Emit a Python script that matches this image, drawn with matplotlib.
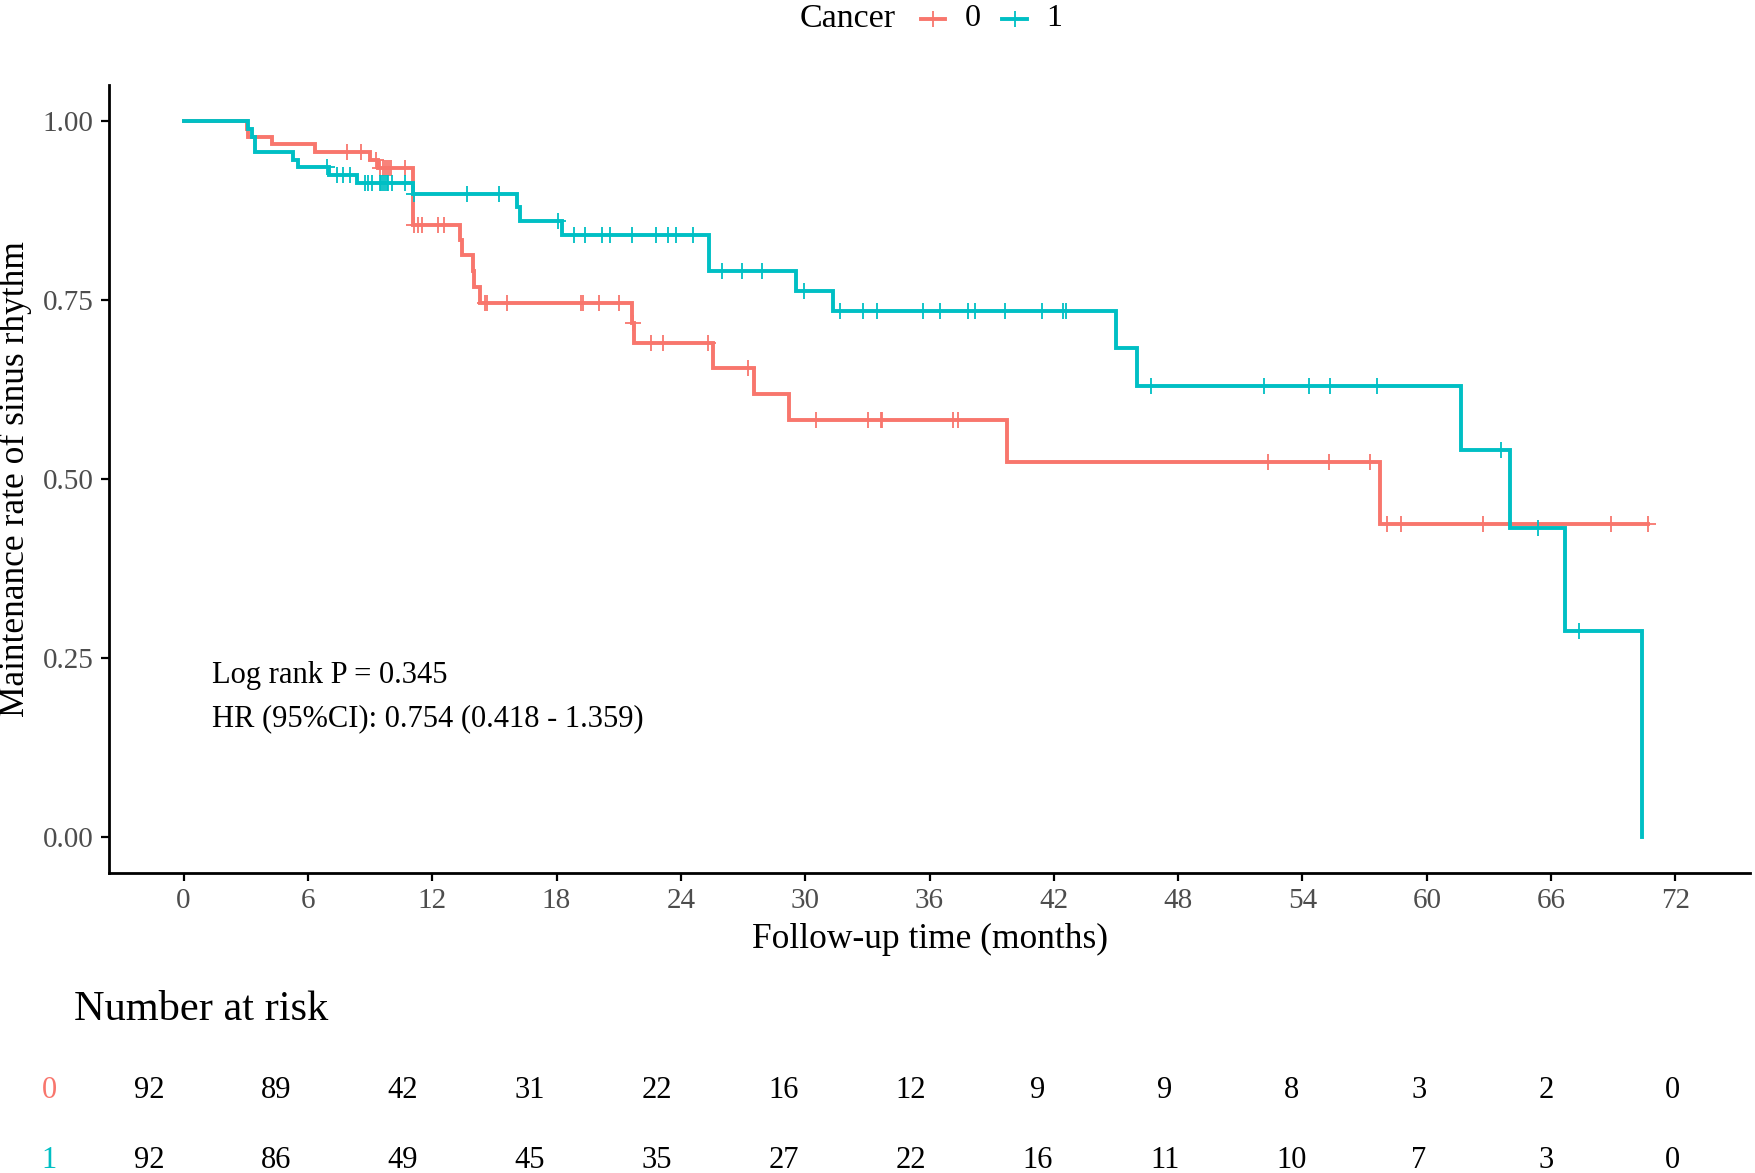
import numpy as np
import matplotlib
matplotlib.use("Agg")
import matplotlib.pyplot as plt
from matplotlib.lines import Line2D
from matplotlib.transforms import blended_transform_factory

plt.rcParams['font.family'] = ['Liberation Serif', 'DejaVu Serif']

# ---------------- data ----------------
groups = ["0", "1"]
colors = ["#F8766D", "#00BFC4"]

# group 0 (red) step curve
t0 = [0, 3.04, 3.12, 4.25, 6.34, 9.0, 9.4, 11.08, 13.34, 13.45, 13.95, 14.0, 14.3,
      21.62, 21.73, 25.56, 27.52, 29.21, 39.72, 57.75]
s0 = [1.0, 0.989, 0.978, 0.967, 0.957, 0.946, 0.934, 0.855, 0.834, 0.813, 0.790, 0.768, 0.746,
      0.718, 0.690, 0.655, 0.619, 0.582, 0.524, 0.437]
end0 = 70.7
cens0 = [7.9, 8.54, 9.3, 9.48, 9.6, 9.7, 9.8, 9.9, 10.0, 10.68, 11.1, 11.3, 11.5, 12.3, 12.55,
         14.54, 14.65, 15.59, 19.16, 19.29, 20.06, 21.01, 21.68, 22.55, 23.15, 25.29, 27.25,
         30.50, 33.04, 33.65, 33.73, 37.14, 37.38, 52.34, 55.30, 57.27, 58.1, 58.78, 62.69,
         68.89, 70.69]

# group 1 (cyan) step curve
t1 = [0, 3.12, 3.28, 3.44, 5.29, 5.53, 7.0, 8.35, 11.05, 16.07, 16.26, 18.24, 25.35,
      29.54, 31.35, 44.98, 46.0, 61.65, 64.0, 66.65, 70.4]
s1 = [1.0, 0.989, 0.978, 0.957, 0.946, 0.935, 0.924, 0.913, 0.898, 0.879, 0.860, 0.840, 0.790,
      0.763, 0.735, 0.683, 0.630, 0.540, 0.432, 0.288, 0.0]
end1 = 70.4
cens1 = [6.9, 7.38, 7.70, 8.03, 8.75, 8.9, 9.07, 9.47, 9.55, 9.63, 9.72, 9.80, 9.87, 10.04,
         10.68, 11.1, 13.66, 15.22, 18.08, 18.84, 19.37, 20.17, 20.57, 21.65, 22.79, 23.39,
         23.76, 24.59, 25.97, 26.93, 27.90, 29.94, 31.67, 32.80, 33.45, 35.67, 36.50, 37.87,
         38.22, 39.65, 41.45, 42.43, 42.60, 46.69, 52.12, 54.33, 55.35, 57.62, 63.58, 65.38,
         67.34]

risk_times = [0, 6, 12, 18, 24, 30, 36, 42, 48, 54, 60, 66, 72]
risk0 = [92, 89, 42, 31, 22, 16, 12, 9, 9, 8, 3, 2, 0]
risk1 = [92, 86, 49, 45, 35, 27, 22, 16, 11, 10, 7, 3, 0]

x_ticks = [0, 6, 12, 18, 24, 30, 36, 42, 48, 54, 60, 66, 72]
y_ticks = [0.0, 0.25, 0.50, 0.75, 1.00]
y_ticklabels = ["0.00", "0.25", "0.50", "0.75", "1.00"]

annot_lines = ["Log rank P = 0.345", "HR (95%CI): 0.754 (0.418 - 1.359)"]


def surv_at(times, surv, t):
    idx = np.searchsorted(np.asarray(times), np.asarray(t), side='right') - 1
    return np.asarray(surv)[idx]


W, H = 1755, 1173
fig = plt.figure(figsize=(W / 100, H / 100), dpi=100)

# main axes
L, R, T, B = 109, 1750, 85, 873
ax = fig.add_axes([L / W, 1 - B / H, (R - L) / W, (B - T) / H])

curves = [(t0, s0, end0, cens0), (t1, s1, end1, cens1)]
for (tt, ss, ee, cc), col in zip(curves, colors):
    xs = list(tt) + [ee]
    ys = list(ss) + [ss[-1]]
    ax.step(xs, ys, where='post', color=col, lw=2.8, solid_joinstyle='miter')
    ax.plot(cc, surv_at(tt, ss, cc), ls='none', marker='|', ms=12, mew=1.3, color=col)
    ax.plot(cc, surv_at(tt, ss, cc), ls='none', marker='_', ms=12, mew=1.3, color=col)

ax.set_xlim(-3.6, 75.6)
ax.set_ylim(-0.05, 1.05)
ax.set_xticks(x_ticks)
ax.set_yticks(y_ticks)
ax.set_yticklabels(y_ticklabels)
for s in ['top', 'right']:
    ax.spines[s].set_visible(False)
for s in ['left', 'bottom']:
    ax.spines[s].set_linewidth(2.0)
ax.tick_params(axis='both', length=6, width=1.6, colors='black', labelsize=21,
               labelcolor='#4D4D4D', pad=5)
ax.set_xlabel("Follow-up time (months)", fontsize=25.5, labelpad=6)
ax.set_ylabel("Maintenance rate of sinus rhythm", fontsize=25.5, labelpad=8)

ax.text(1.39, 0.226, annot_lines[0], fontsize=22, va='center', ha='left')
ax.text(1.39, 0.166, annot_lines[1], fontsize=22, va='center', ha='left')

# legend (top)
ly = 1 - 19 / H
fig.text(848 / W, ly, "Cancer", fontsize=24.5, ha='center', va='center')
leg_items = [(921, 945, 973), (1002, 1027, 1054)]
for (x1, x2, xt), col, g in zip(leg_items, colors, groups):
    fig.add_artist(Line2D([x1 / W, x2 / W], [ly, ly], color=col, lw=2.8,
                          transform=fig.transFigure))
    fig.add_artist(Line2D([(x1 + x2) / 2 / W], [ly], color=col, marker='|', ms=12, mew=1.3,
                          transform=fig.transFigure))
    fig.text(xt / W, ly, g, fontsize=23, ha='center', va='center')

# risk table
tL, tR = 72.6, 1749
axt = fig.add_axes([tL / W, 0.0, (tR - tL) / W, 0.12])
axt.set_xlim(-3.6, 75.6)
axt.axis('off')
tr = blended_transform_factory(axt.transData, fig.transFigure)
fig.text(74 / W, 1 - 1010 / H, "Number at risk", fontsize=30.5, ha='left', va='center')
for row, yy, col, g in [(risk0, 1091, colors[0], groups[0]), (risk1, 1160, colors[1], groups[1])]:
    fig.text(49 / W, 1 - yy / H, g, fontsize=22, color=col, ha='center', va='center')
    for t, n in zip(risk_times, row):
        axt.text(t, 1 - yy / H, str(n), fontsize=22, ha='center', va='center', transform=tr)

fig.savefig("out.png", dpi=100)
